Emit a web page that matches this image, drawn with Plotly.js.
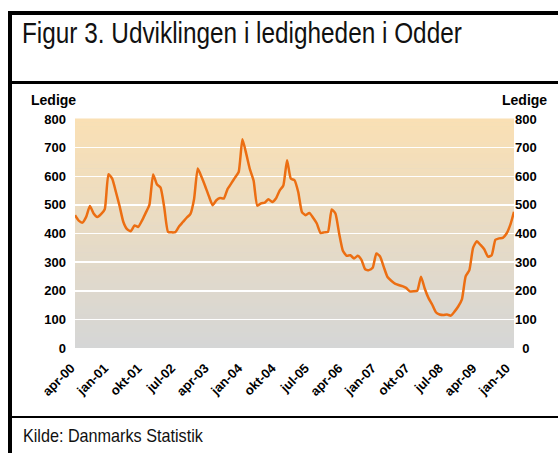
<!DOCTYPE html>
<html>
<head>
<meta charset="utf-8">
<script src="https://cdn.plot.ly/plotly-3.0.1.min.js"></script>
<style>
  html, body { margin: 0; padding: 0; background: #fff; }
  #wrap { position: relative; width: 558px; height: 453px; overflow: hidden; }
  #chart { position: absolute; left: 0; top: 0; width: 558px; height: 453px; }
  .bar { position: absolute; background: #000; z-index: 5; }
</style>
</head>
<body>
<div id="wrap">
  <div id="chart"></div>
  <div class="bar" style="left:8px; top:11px; width:4px; height:442px;"></div>
  <div class="bar" style="left:8px; top:11px; width:550px; height:4px;"></div>
  <div class="bar" style="left:8px; top:81px; width:550px; height:3px;"></div>
  <div class="bar" style="left:8px; top:416px; width:550px; height:2px;"></div>
</div>
<script>
// Months (Danish abbreviations) and start of series
const monthNames = ["jan","feb","mar","apr","maj","jun","jul","aug","sep","okt","nov","dec"];
const startYear = 2000;
const startMonth = 3; // april (0-based)

// Number of unemployed (Ledige) in Odder, monthly apr-00 .. feb-10
const ledige = [
  464,445,438,458,496,470,458,468,485,607,
  592,545,495,440,415,408,428,423,445,472,
  500,606,572,560,490,406,404,405,425,440,
  455,468,520,627,598,565,530,499,516,524,
  522,555,575,595,615,729,680,625,585,497,
  505,508,520,510,522,550,568,656,592,586,
  545,475,464,472,455,435,402,404,406,484,
  470,400,340,322,324,313,322,308,275,272,
  280,330,320,283,248,235,225,220,216,210,
  198,198,200,249,208,175,152,125,117,115,
  117,113,127,145,170,250,272,350,373,360,
  345,319,324,378,383,385,400,430,476
];

// Category labels for each month
const months = ledige.map((_, i) => {
  const m = (startMonth + i) % 12;
  const y = startYear + Math.floor((startMonth + i) / 12);
  return monthNames[m] + "-" + String(y % 100).padStart(2, "0");
});

// Shown x tick labels
const xTickLabels = ["apr-00","jan-01","okt-01","jul-02","apr-03","jan-04","okt-04",
                     "jul-05","apr-06","jan-07","okt-07","jul-08","apr-09","jan-10"];

// Y ticks
const yTicks = [0,100,200,300,400,500,600,700,800];
const yTickTextRight = ["\u20070\u2007","100","200","300","400","500","600","700","800"];

// Background gradient bands (style only)
const topCol = [250,224,180], botCol = [213,214,214];
const nBands = 60;
const shapes = [];
for (let k = 0; k < nBands; k++) {
  const t = (k + 0.5) / nBands; // 0 bottom -> 1 top
  const c = botCol.map((b, j) => Math.round(b + (topCol[j] - b) * t));
  shapes.push({
    type: "rect", xref: "paper", yref: "paper", layer: "below",
    x0: 0, x1: 1, y0: k / nBands, y1: (k + 1) / nBands + 0.002,
    fillcolor: "rgb(" + c.join(",") + ")", line: { width: 0 }
  });
}

const FONT = "Liberation Sans, Arial, sans-serif";
const tickFont = { family: FONT, size: 13, color: "#000", weight: "bold" };

const trace = {
  type: "scatter", mode: "lines",
  x: months, y: ledige,
  line: { color: "#EC6E12", width: 2.5, shape: "spline", smoothing: 0.5 },
  hoverinfo: "x+y", showlegend: false
};
// empty trace so the right-hand axis is drawn
const axisTrace = { type: "scatter", mode: "lines", x: [], y: [], yaxis: "y2", showlegend: false, hoverinfo: "skip" };

const layout = {
  width: 558, height: 453,
  margin: { l: 75, r: 44, t: 119, b: 105 },
  paper_bgcolor: "#fff",
  plot_bgcolor: "rgb(213,214,214)",
  showlegend: false,
  title: {
    text: "Figur 3. Udviklingen i ledigheden i Odder",
    xref: "container", yref: "container",
    x: 22 / 558, xanchor: "left",
    y: 1 - 33 / 453, yanchor: "middle",
    font: { family: FONT, size: 29, color: "#111" }
  },
  xaxis: {
    type: "category",
    range: [0, ledige.length - 1],
    tickmode: "array", tickvals: xTickLabels, ticktext: xTickLabels,
    tickangle: -45, tickfont: { family: FONT, size: 13, color: "#000", weight: "bold" },
    ticklabelstandoff: 9, ticklabelshift: -4,
    showgrid: false, zeroline: false, showline: false, ticks: "",
    fixedrange: true
  },
  yaxis: {
    range: [0, 800],
    tickmode: "array", tickvals: yTicks, ticktext: yTicks.map(String),
    tickfont: tickFont, ticks: "", ticklabelstandoff: 8,
    showgrid: true, gridcolor: "#ffffff", gridwidth: 1.5,
    zeroline: false, showline: false, fixedrange: true
  },
  yaxis2: {
    overlaying: "y", side: "right",
    range: [0, 800],
    tickmode: "array", tickvals: yTicks, ticktext: yTickTextRight,
    tickfont: tickFont, ticks: "", ticklabelstandoff: 0,
    showgrid: false, zeroline: false, showline: false, fixedrange: true
  },
  shapes: shapes,
  annotations: [
    { xref: "paper", yref: "paper", x: (29 - 75) / 439, y: (348 - 100) / 229,
      xanchor: "left", yanchor: "middle", showarrow: false, text: "Ledige",
      font: { family: FONT, size: 14, color: "#000", weight: "bold" } },
    { xref: "paper", yref: "paper", x: (549 - 75) / 439, y: (348 - 100) / 229,
      xanchor: "right", yanchor: "middle", showarrow: false, text: "Ledige",
      font: { family: FONT, size: 14, color: "#000", weight: "bold" } },
    { xref: "paper", yref: "paper", x: (21 - 75) / 439, y: (348 - 436) / 229,
      xanchor: "left", yanchor: "middle", showarrow: false, text: "Kilde: Danmarks Statistik",
      font: { family: FONT, size: 18, color: "#111" } }
  ]
};

Plotly.newPlot("chart", [trace, axisTrace], layout, { displayModeBar: false, staticPlot: true }).then(gd => {
  // condense the title horizontally (reference uses a narrow typeface)
  const t = gd.querySelector(".gtitle");
  if (t) {
    const x = parseFloat(t.getAttribute("x")) || 22;
    t.setAttribute("transform", "translate(" + x + ",0) scale(0.84,1) translate(" + (-x) + ",0)");
  }
  gd.querySelectorAll(".annotation-text").forEach(el => {
    if (el.textContent.indexOf("Kilde") === 0) {
      const g = el.closest(".annotation");
      if (g) {
        const x0 = g.getBBox().x;
        g.setAttribute("transform", "translate(" + x0 + ",0) scale(0.9,1) translate(" + (-x0) + ",0)");
      }
    }
  });
});
</script>
</body>
</html>
